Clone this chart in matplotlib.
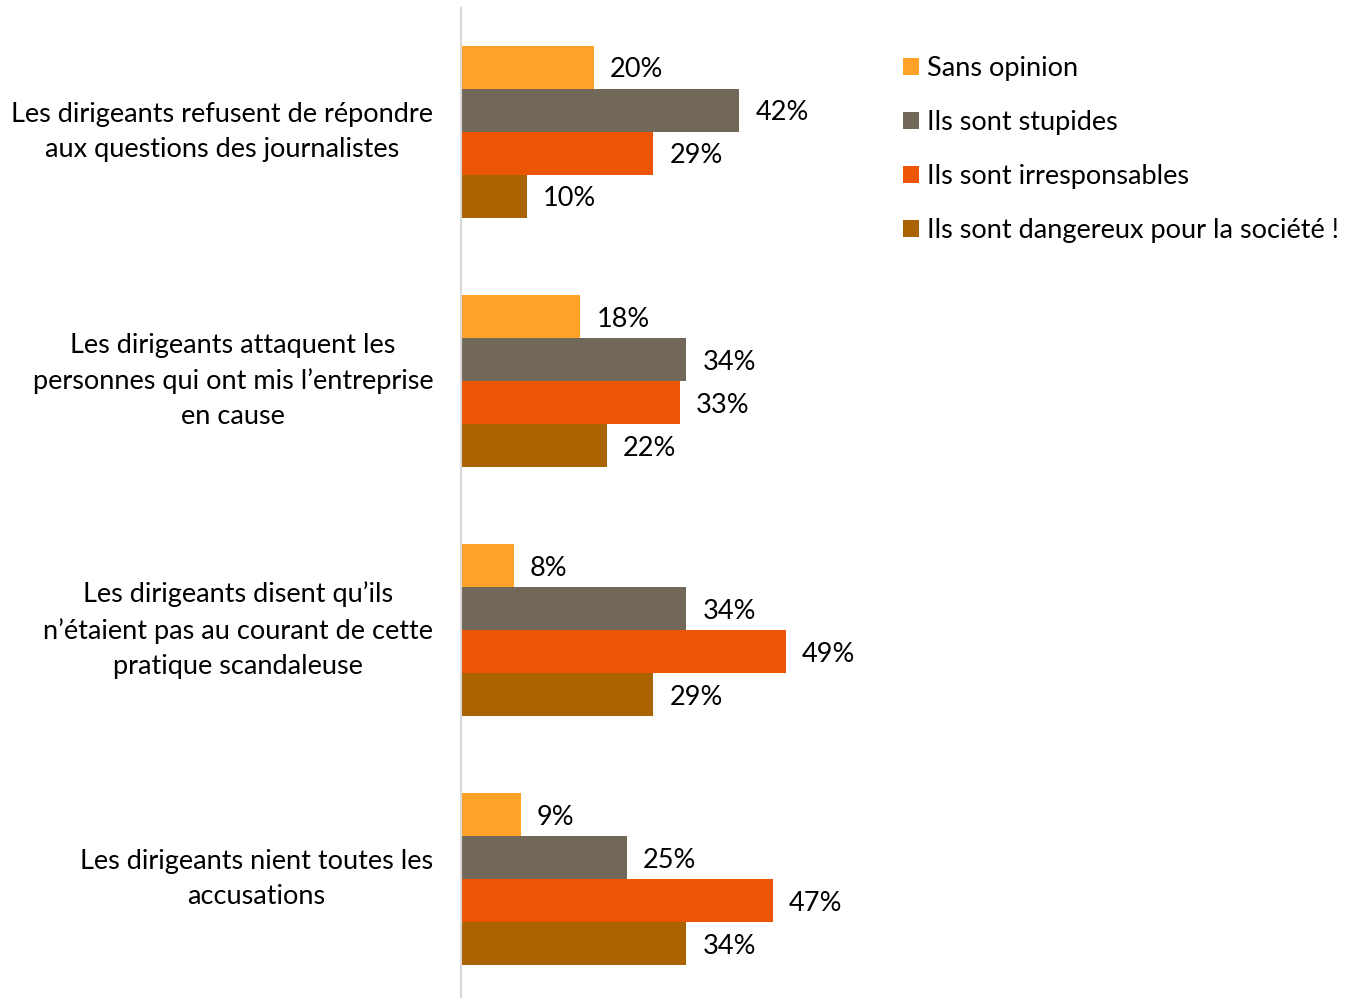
import numpy as np
import matplotlib.pyplot as plt
from matplotlib.patches import Patch

plt.rcParams['font.family'] = ['Lato', 'DejaVu Sans']

# catégories (de haut en bas)
categories = [
    "Les dirigeants refusent de répondre\naux questions des journalistes",
    "Les dirigeants attaquent les\npersonnes qui ont mis l’entreprise\nen cause",
    "Les dirigeants disent qu’ils\nn’étaient pas au courant de cette\npratique scandaleuse",
    "Les dirigeants nient toutes les\naccusations",
]

series_names = [
    "Sans opinion",
    "Ils sont stupides",
    "Ils sont irresponsables",
    "Ils sont dangereux pour la société !",
]

sans_opinion = [20, 18, 8, 9]
stupides = [42, 34, 34, 25]
irresponsables = [29, 33, 49, 47]
dangereux = [10, 22, 29, 34]

series_values = [sans_opinion, stupides, irresponsables, dangereux]
colors = ['#FFA227', '#72685A', '#EC5504', '#AB6300']

fs = 19.5

fig = plt.figure(figsize=(13.59, 9.98), dpi=100)
ax = fig.add_axes([461 / 1359, 1 / 998, 431 / 1359, 989 / 998])

y = np.arange(len(categories))
bar_h = 0.1727
for i, (vals, col) in enumerate(zip(series_values, colors)):
    pos = y + (i - 1.5) * bar_h
    ax.barh(pos, vals, height=bar_h, color=col, edgecolor='none')
    for p, v in zip(pos, vals):
        ax.annotate(f"{v}%", (v, p), xytext=(11.5, -2), textcoords='offset points',
                    ha='left', va='center', fontsize=fs, color='black')

ax.set_xlim(0, 65)
ax.set_ylim(3.472, -0.496)
ax.set_yticks(y)
ax.set_yticklabels(categories, fontsize=fs, multialignment='center', linespacing=1.5, va='center')
ax.tick_params(axis='y', length=0, pad=20)
ax.set_xticks([])
for s in ['top', 'right', 'bottom']:
    ax.spines[s].set_visible(False)
ax.spines['left'].set_color('#D9D9D9')
ax.spines['left'].set_linewidth(1.5)

handles = [Patch(facecolor=c, edgecolor='none') for c in colors]
fig.legend(handles, series_names, loc='upper left', bbox_to_anchor=(892 / 1359, 1 - 45 / 998),
           frameon=False, fontsize=fs, handlelength=0.6, handleheight=0.6,
           handletextpad=0.3, labelspacing=1.07, borderaxespad=0)

fig.savefig('out.png', dpi=100)
